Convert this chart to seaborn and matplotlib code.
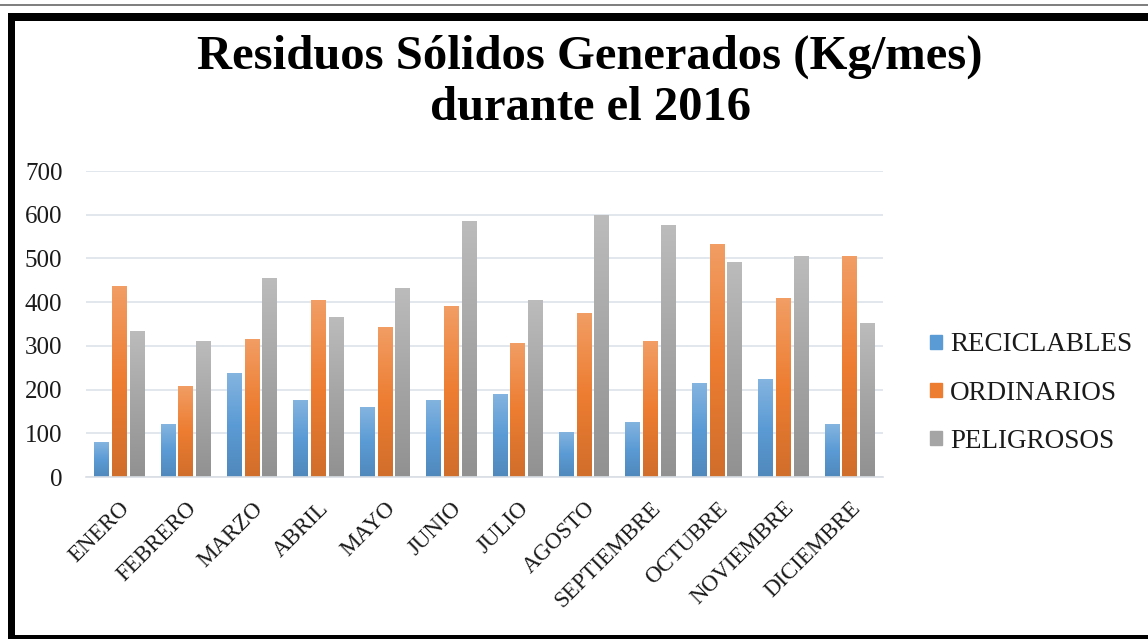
import numpy as np
import pandas as pd
import matplotlib
matplotlib.use('Agg')
import matplotlib.pyplot as plt
from matplotlib.patches import Rectangle
from matplotlib.colors import LinearSegmentedColormap, to_rgb
import seaborn as sns

meses = ['ENERO', 'FEBRERO', 'MARZO', 'ABRIL', 'MAYO', 'JUNIO', 'JULIO',
         'AGOSTO', 'SEPTIEMBRE', 'OCTUBRE', 'NOVIEMBRE', 'DICIEMBRE']
reciclables = [80, 121, 237, 177, 159, 177, 191, 103, 126, 214, 224, 121]
ordinarios = [437, 209, 316, 404, 344, 391, 307, 376, 311, 534, 409, 506]
peligrosos = [334, 311, 456, 367, 433, 585, 404, 599, 576, 492, 506, 353]
series = ['RECICLABLES', 'ORDINARIOS', 'PELIGROSOS']
colores = ['#5B9BD5', '#ED7D31', '#A5A5A5']

data = pd.DataFrame({'mes': meses, 'RECICLABLES': reciclables,
                     'ORDINARIOS': ordinarios, 'PELIGROSOS': peligrosos})
data = data.melt(id_vars='mes', var_name='tipo', value_name='kg')

sns.set_style('white')
plt.rcParams['font.family'] = ['Liberation Serif', 'DejaVu Serif']

W, H = 1148, 639
fig = plt.figure(figsize=(W / 100, H / 100), dpi=100)
ax = fig.add_axes([86 / W, 1 - 477 / H, (883 - 86) / W, (477 - 171) / H])

sns.barplot(data=data, x='mes', y='kg', hue='tipo', hue_order=series,
            palette=colores, width=0.8, gap=0.17, ax=ax, legend=False,
            linewidth=0, saturation=1)

# degradado vertical estilo Excel en cada barra
grad = np.linspace(0, 1, 100).reshape(-1, 1)
for bar in list(ax.patches):
    x, y = bar.get_x(), bar.get_y()
    w, h = bar.get_width(), bar.get_height()
    base = np.array(to_rgb(bar.get_facecolor()))
    cmap = LinearSegmentedColormap.from_list('g', [base * 0.88, base, base * 0.75 + 0.25])
    im = ax.imshow(grad, extent=[x, x + w, y, y + h], origin='lower', cmap=cmap,
                   aspect='auto', zorder=bar.get_zorder() + 0.1, interpolation='bilinear')
    im.set_clip_path(bar)

ax.set_ylim(0, 700)
ax.set_xlim(-0.5, 11.5)
ax.set_yticks(range(0, 701, 100))
ax.yaxis.grid(True, color='#DDE3EA', linewidth=1.2)
ax.set_axisbelow(True)
for s in ['left', 'top', 'right']:
    ax.spines[s].set_visible(False)
ax.spines['bottom'].set_color('#D9DEE5')
ax.spines['bottom'].set_linewidth(1.2)
ax.set_xlabel('')
ax.set_ylabel('')
ax.tick_params(axis='y', length=0, pad=17, labelsize=18, labelcolor='#1a1a1a')
ax.tick_params(axis='x', length=0, pad=15, labelsize=16.5, labelcolor='#1a1a1a')
plt.setp(ax.get_xticklabels(), rotation=45, ha='right', rotation_mode='anchor')

fig.text(590 / W, 1 - 57 / H, 'Residuos Sólidos Generados (Kg/mes)', ha='center',
         va='center', fontsize=35, fontweight='bold', color='black')
fig.text(590 / W, 1 - 108 / H, 'durante el 2016', ha='center',
         va='center', fontsize=35, fontweight='bold', color='black')

handles = [Rectangle((0, 0), 1, 1, color=c) for c in colores]
fig.legend(handles, series, loc='center left', bbox_to_anchor=(930 / W, 1 - 393 / H),
           frameon=False, fontsize=19.5, handlelength=0.45, handleheight=0.45,
           handletextpad=0.3, labelspacing=0.85, borderpad=0, borderaxespad=0,
           labelcolor='#1a1a1a')

# marco de la imagen original
fig.add_artist(Rectangle((0, 1 - 6 / H), 1, 2 / H, transform=fig.transFigure,
                         color='#808080', lw=0))
fig.add_artist(Rectangle((8 / W, 1 - 21 / H), 1, 8 / H, transform=fig.transFigure,
                         color='black', lw=0))
fig.add_artist(Rectangle((8 / W, 0), 7 / W, 1 - 13 / H, transform=fig.transFigure,
                         color='black', lw=0))
fig.add_artist(Rectangle((8 / W, 0), 1, 4 / H, transform=fig.transFigure,
                         color='black', lw=0))

fig.savefig('out.png', dpi=100)
